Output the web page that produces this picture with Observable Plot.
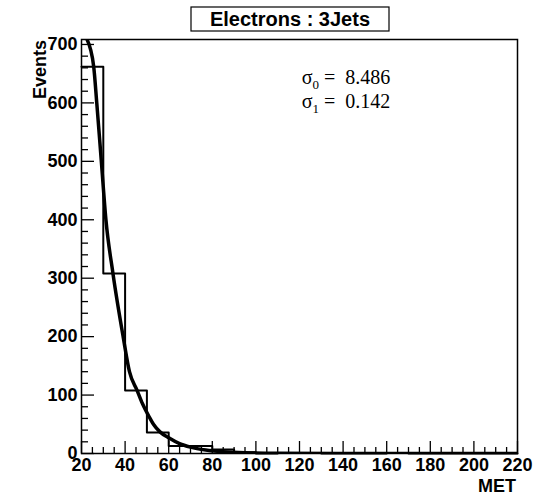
<!DOCTYPE html>
<html>
<head>
<meta charset="utf-8">
<script src="https://cdn.jsdelivr.net/npm/d3@7"></script>
<script src="https://cdn.jsdelivr.net/npm/@observablehq/plot@0.6"></script>
<style>
  body { margin: 0; background: #fff; }
  #chart { width: 542px; height: 497px; }
</style>
</head>
<body>
<div id="chart"></div>
<script>
// ---- data ----
const title = "Electrons : 3Jets";
const xLabel = "MET";
const yLabel = "Events";
const fitNames = ["0", "1"];
const fitValues = ["8.486", "0.142"];

// histogram (bin lower edges, width 10) and counts
const binStarts = [20, 30, 40, 50, 60, 70, 80, 90, 100, 110, 120, 130, 140, 150, 160, 170, 180, 190, 200, 210];
const binCounts = [662, 308, 108, 36, 13, 13, 7, 2, 0, 1, 1, 0, 0, 0, 1, 0, 0, 0, 0, 0];
const binEnd = 220;

// fitted curve, points
const fitX = [22.6, 25.6, 27.0, 29.1, 31.2, 34.4, 39.1, 42, 45.5, 48, 51, 53, 56, 60, 65, 70, 77, 85, 95, 110, 140, 220];
const fitY = [708, 662, 600, 500, 400, 309, 200, 140, 108, 85, 63, 50, 37, 27, 17, 11, 6, 3, 1.2, 0.3, 0, 0];

// axis ticks
const xMajorTicks = [20, 40, 60, 80, 100, 120, 140, 160, 180, 200, 220];
const yMajorTicks = [0, 100, 200, 300, 400, 500, 600, 700];
const xMinorTicks = d3.range(20, 221, 5).filter(v => !xMajorTicks.includes(v));
const yMinorTicks = d3.range(0, 701, 20).filter(v => !yMajorTicks.includes(v));

// ---- build tables ----
const histPts = binStarts.map((x, i) => ({x, v: binCounts[i]}))
  .concat([{x: binEnd, v: binCounts[binCounts.length - 1]}]);
const fitPts = fitX.map((x, i) => ({x, y: fitY[i]}));

const W = 542, H = 497;
const plot = Plot.plot({
  width: W,
  height: H,
  marginLeft: 81,
  marginRight: 25,
  marginTop: 39,
  marginBottom: 44,
  x: {domain: [20, 220]},
  y: {domain: [0, 708.5]},
  style: {
    fontFamily: "'Liberation Sans', Arial, Helvetica, sans-serif",
    fontWeight: "bold",
    fontSize: "18px",
    color: "#000",
    background: "#fff"
  },
  marks: [
    Plot.axisX(xMinorTicks, {tickSize: -6, tickFormat: () => "", label: null, strokeWidth: 1.3}),
    Plot.axisX(xMajorTicks, {tickSize: -12, tickPadding: 17, label: null, strokeWidth: 1.3}),
    Plot.axisY(yMinorTicks, {tickSize: -7, tickFormat: () => "", label: null, strokeWidth: 1.3}),
    Plot.axisY(yMajorTicks, {tickSize: -13, tickPadding: 17, label: null, strokeWidth: 1.3}),
    Plot.lineY(histPts, {x: "x", y: "v", curve: "step-after", stroke: "#000", strokeWidth: 2}),
    Plot.line(fitPts, {x: "x", y: "y", curve: "monotone-x", stroke: "#000", strokeWidth: 3.5, clip: true}),
    Plot.frame({stroke: "#000", strokeWidth: 1.5})
  ]
});
document.getElementById("chart").appendChild(plot);

// ---- decorations: title box, axis titles, fit parameters ----
const svg = d3.select(plot);
const g = svg.append("g");
g.append("rect")
  .attr("x", 191).attr("y", 7).attr("width", 198).attr("height", 24)
  .attr("fill", "#fff").attr("stroke", "#000").attr("stroke-width", 1.2);
g.append("text")
  .attr("x", 290).attr("y", 26)
  .attr("text-anchor", "middle")
  .style("font", "bold 20px 'Liberation Sans', Arial, sans-serif")
  .text(title);

g.append("text")
  .attr("transform", "translate(46,40) rotate(-90)")
  .attr("text-anchor", "end")
  .style("font", "bold 18px 'Liberation Sans', Arial, sans-serif")
  .text(yLabel);

g.append("text")
  .attr("x", 516).attr("y", 492)
  .attr("text-anchor", "end")
  .style("font", "bold 18px 'Liberation Sans', Arial, sans-serif")
  .text(xLabel);

fitNames.forEach((n, i) => {
  const t = g.append("text")
    .attr("x", 346).attr("y", 84 + i * 24)
    .style("font", "20px 'Liberation Serif', 'Times New Roman', serif")
    .attr("xml:space", "preserve");
  t.append("tspan").text("σ");
  t.append("tspan").attr("dy", 5).style("font-size", "13px").text(n);
  t.append("tspan").attr("dy", -5).text("\u00a0=\u00a0\u00a0" + fitValues[i]);
});
</script>
</body>
</html>
